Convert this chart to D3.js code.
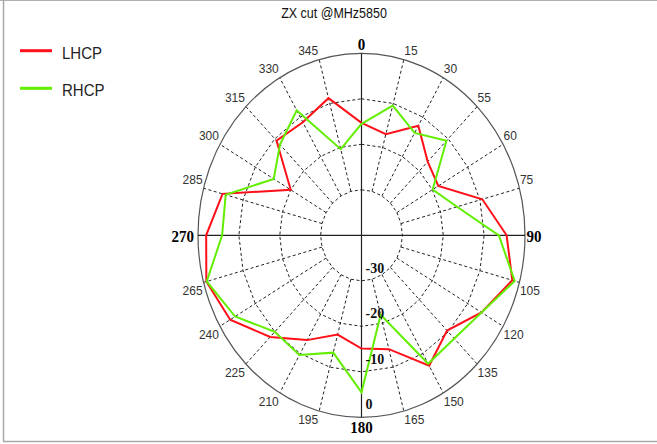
<!DOCTYPE html>
<html>
<head>
<meta charset="utf-8">
<script src="https://cdn.jsdelivr.net/npm/d3@7"></script>
<style>
  html, body { margin: 0; padding: 0; background: #fff; }
  svg { display: block; }
</style>
</head>
<body>
<svg id="chart" width="657" height="444"></svg>
<script>
// Pattern cut angles (degrees, clockwise from top)
const angles = [0, 15, 30, 45, 60, 75, 90, 105, 120, 135, 150, 165,
                180, 195, 210, 225, 240, 255, 270, 285, 300, 315, 330, 345];
// Angle tick labels as printed on the plot
const angleLabels = ["0", "15", "30", "55", "60", "75", "90", "105", "120", "135", "150", "165",
                     "180", "195", "210", "225", "240", "265", "270", "285", "300", "315", "330", "345"];
// Gain (dB) per angle
const lhcp = [-15.3, -17.0, -12.2, -17.1, -18.3, -9.4, -4.5, -1.8, -6.1, -10.4, -6.9, -14.1,
              -15.1, -17.4, -13.4, -8.4, -2.9, -0.7, -2.0, -4.8, -20.0, -10.6, -11.3, -8.8];
const rhcp = [-15.5, -10.5, -14.0, -10.6, -19.9, -15.8, -6.4, -1.2, -6.1, -7.9, -7.4, -21.9,
              -5.5, -13.3, -9.6, -10.0, -4.3, -0.8, -5.9, -5.6, -15.2, -11.8, -8.3, -20.4];
// Radial rings / tick labels
const ringValues = [-30, -20, -10];
const radialTicks = [-30, -20, -10, 0];
const seriesNames = ["LHCP", "RHCP"];
const seriesColors = ["#ff1018", "#62ee00"];

const svg = d3.select("#chart");
const W = 657, H = 444;
const cx = 361.5, cy = 235.3;
const Rx = 163.5, Ry = 182;
const ky = Ry / Rx;   // vertical stretch of the plot

const r = d3.scaleLinear().domain([-40, 0]).range([0, 1]);
const ang = d3.scaleLinear().domain([0, 360]).range([0, 2 * Math.PI]);
const px = (a, v) => cx + Rx * r(v) * Math.sin(ang(a));
const py = (a, v) => cy - Ry * r(v) * Math.cos(ang(a));

// frame
svg.append("line").attr("x1", 0).attr("x2", W).attr("y1", 0.5).attr("y2", 0.5)
  .attr("stroke", "#b0b0b0").attr("stroke-width", 1);
svg.append("line").attr("x1", 3.5).attr("x2", 3.5).attr("y1", 0).attr("y2", 441.5)
  .attr("stroke", "#a8a8a8").attr("stroke-width", 1.5);
svg.append("line").attr("x1", 3).attr("x2", W).attr("y1", 441.5).attr("y2", 441.5)
  .attr("stroke", "#a8a8a8").attr("stroke-width", 1.5);

// helper: text with the same vertical stretch as the plot
function label(x, y, txt, opts) {
  const t = svg.append("text")
    .attr("transform", `translate(${x},${y}) scale(1,${ky.toFixed(3)})`)
    .attr("text-anchor", opts.anchor || "start")
    .attr("font-family", opts.family || "'Liberation Sans', Arial, sans-serif")
    .attr("font-size", opts.size || 12)
    .attr("font-weight", opts.weight || "normal")
    .attr("fill", opts.fill || "#333")
    .text(txt);
  return t;
}

// title
label(334, 18, "ZX cut @MHz5850", { anchor: "middle", size: 12.5, fill: "#111" });

// dashed rings (polygons through the spokes)
const ringLine = d3.line().curve(d3.curveLinearClosed);
ringValues.forEach(v => {
  svg.append("path")
    .attr("d", ringLine(angles.map(a => [px(a, v), py(a, v)])))
    .attr("fill", "none").attr("stroke", "#222").attr("stroke-width", 1)
    .attr("stroke-dasharray", "3,2.5");
});

// dashed spokes
angles.filter(a => a % 90 !== 0).forEach(a => {
  svg.append("line")
    .attr("x1", px(a, -30)).attr("y1", py(a, -30))
    .attr("x2", px(a, 0)).attr("y2", py(a, 0))
    .attr("stroke", "#222").attr("stroke-width", 1)
    .attr("stroke-dasharray", "3,2.5");
});

// outer boundary
svg.append("ellipse").attr("cx", cx).attr("cy", cy).attr("rx", Rx).attr("ry", Ry)
  .attr("fill", "none").attr("stroke", "#555").attr("stroke-width", 1.2);

// solid axes
svg.append("line").attr("x1", px(270, 0)).attr("x2", px(90, 0)).attr("y1", cy).attr("y2", cy)
  .attr("stroke", "#222").attr("stroke-width", 1.2);
svg.append("line").attr("x1", cx).attr("x2", cx).attr("y1", py(0, 0)).attr("y2", py(180, 0))
  .attr("stroke", "#222").attr("stroke-width", 1.2);

// series
const line = d3.line()
  .x((d, i) => px(angles[i], d))
  .y((d, i) => py(angles[i], d))
  .curve(d3.curveLinearClosed);
[lhcp, rhcp].forEach((s, k) => {
  svg.append("path").attr("d", line(s))
    .attr("fill", "none").attr("stroke", seriesColors[k]).attr("stroke-width", 2)
    .attr("stroke-linejoin", "miter");
});

// angle labels
angles.forEach((a, i) => {
  const x0 = px(a, 0), y0 = py(a, 0);
  const txt = angleLabels[i];
  if (a % 90 === 0) {
    const bold = { family: "'Liberation Serif', 'Times New Roman', serif", weight: "bold", size: 15, fill: "#000" };
    if (a === 0) label(x0, y0 - 3.5, txt, Object.assign({ anchor: "middle" }, bold));
    else if (a === 180) label(x0, y0 + 16, txt, Object.assign({ anchor: "middle" }, bold));
    else if (a === 90) label(x0 + 1.5, cy + 6.5, txt, Object.assign({ anchor: "start" }, bold));
    else label(x0 - 4, cy + 6.5, txt, Object.assign({ anchor: "end" }, bold));
    return;
  }
  const right = a < 180;
  const upper = a < 90 || a > 270;
  label(right ? x0 + 0.5 : x0 - 1, upper ? y0 - 4.5 : y0 + 12.8, txt,
        { anchor: right ? "start" : "end", size: 12 });
});

// radial labels along the 180 axis
radialTicks.forEach(v => {
  label(cx + 4, py(180, v) - 8, String(v),
    { family: "'Liberation Serif', 'Times New Roman', serif", weight: "bold", size: 14, fill: "#111" });
});

// legend
seriesNames.forEach((name, k) => {
  const y = [50.7, 88.3][k];
  svg.append("line").attr("x1", 20).attr("x2", 52).attr("y1", y).attr("y2", y)
    .attr("stroke", seriesColors[k]).attr("stroke-width", 3);
  label(62, y + 8, name, { size: 15, fill: "#222" });
});
</script>
</body>
</html>
